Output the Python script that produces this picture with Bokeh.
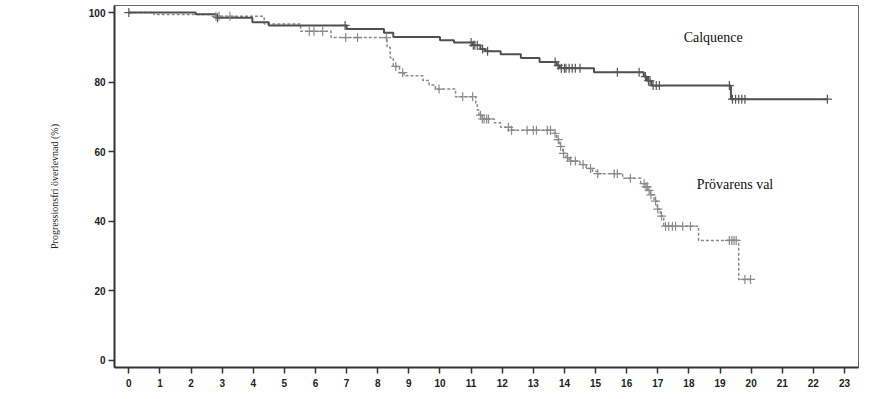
import numpy as np
from bokeh.plotting import figure
from bokeh.models import Range1d, FixedTicker
from bokeh.core.properties import value
from bokeh.embed import file_html
from bokeh.resources import INLINE

# Calquence: event times (months) and survival (%) after each event
calq_t = [0, 2.15, 2.8, 3.97, 4.5, 7.0, 8.2, 8.5, 10.0, 10.45, 11.05, 11.3, 11.45,
          11.95, 12.6, 13.2, 13.75, 13.85, 14.95, 16.55, 16.65, 16.8, 19.35, 22.45]
calq_s = [100, 99.5, 98.5, 97.2, 96.3, 95.3, 94.2, 93.0, 92.0, 91.4, 90.6, 89.5, 88.9,
          88.0, 86.9, 85.8, 84.8, 84.0, 82.8, 81.6, 80.4, 79.0, 75.1, 75.1]
calq_cens = [0.0, 2.85, 6.95, 11.0, 11.07, 11.12, 11.2, 11.37, 11.53, 13.7, 13.8, 13.9,
             14.0, 14.05, 14.15, 14.25, 14.35, 14.5, 15.7, 16.4, 16.6, 16.7, 16.75,
             16.85, 16.95, 17.05, 19.3, 19.4, 19.5, 19.6, 19.7, 19.8, 22.45]

# Prövarens val
prov_t = [0, 0.8, 2.8, 4.35, 5.52, 6.5, 8.3, 8.4, 8.5, 8.7, 8.85, 9.45, 9.65, 9.85,
          10.5, 11.15, 11.2, 11.25, 11.35, 11.75, 11.95, 12.3, 13.65, 13.75, 13.85, 13.95,
          14.05, 14.15, 14.5, 14.7, 14.9, 15.05, 15.87, 16.45, 16.58, 16.68, 16.76, 16.88,
          16.98, 17.08, 17.19, 18.31, 19.6, 19.98]
prov_s = [100, 99.4, 98.9, 96.7, 94.6, 92.8, 90.0, 87.0, 84.5, 82.7, 81.8, 80.5,
          79.2, 78.0, 75.8, 73.5, 72.0, 70.5, 69.4, 68.3, 67.0, 66.2, 65.3, 63.5, 61.5,
          59.5, 58.3, 57.3, 56.3, 55.2, 54.4, 53.7, 52.4, 50.8, 49.9, 48.9, 47.6, 45.8,
          43.5, 41.5, 38.6, 34.5, 23.3, 23.3]
prov_cens = [2.8, 2.9, 3.25, 5.8, 5.95, 6.23, 6.97, 7.35, 8.28, 8.58, 8.8, 9.97, 10.73,
             11.05, 11.3, 11.36, 11.42, 11.5, 11.56, 12.2, 12.3, 12.8, 13.0, 13.1, 13.45,
             13.55, 13.7, 13.8, 13.88, 13.97, 14.1, 14.2, 14.35, 14.6, 14.84, 15.07,
             15.6, 15.7, 16.12, 16.56, 16.62, 16.66, 16.72, 16.78, 16.93, 17.0, 17.12,
             17.25, 17.35, 17.47, 17.57, 17.8, 18.05, 19.3, 19.38, 19.45, 19.52,
             19.8, 19.98]

x_ticks = list(range(0, 24))
y_ticks = [0, 20, 40, 60, 80, 100]


def step_value(times, surv, t):
    i = np.searchsorted(np.array(times), t, side="right") - 1
    return surv[max(i, 0)]


p = figure(width=869, height=389, output_backend="svg", toolbar_location=None,
           x_range=Range1d(-0.46, 23.45), y_range=Range1d(-2.02, 102.02),
           min_border_left=114, min_border_right=11, min_border_top=5, min_border_bottom=0)
p.grid.visible = False
p.outline_line_color = "#666666"
p.outline_line_width = 1

# Curves
p.step(prov_t, prov_s, mode="after", line_color="#8a8a8a", line_width=1.5,
       line_dash="3 2")
p.step(calq_t, calq_s, mode="after", line_color="#505050", line_width=2)

p.scatter(prov_cens, [step_value(prov_t, prov_s, t) for t in prov_cens],
          marker="cross", size=9, line_color="#8a8a8a", line_width=1.2)
p.scatter(calq_cens, [step_value(calq_t, calq_s, t) for t in calq_cens],
          marker="cross", size=9, line_color="#555555", line_width=1.2)

# Labels
p.text([18.78], [92.8], text=["Calquence"], text_font=value("Liberation Serif"),
       text_font_size="14px", text_align="center", text_baseline="middle",
       text_color="#111111")
p.text([19.48], [50.6], text=["Prövarens val"], text_font=value("Liberation Serif"),
       text_font_size="14px", text_align="center", text_baseline="middle",
       text_color="#111111")

# Axes
for ax in (p.xaxis, p.yaxis):
    ax.axis_line_color = "#333333"
    ax.axis_line_width = 2
    ax.major_tick_line_color = "#333333"
    ax.major_tick_line_width = 1.5
    ax.major_tick_out = 6
    ax.major_tick_in = 0
    ax.minor_tick_line_color = None
    ax.major_label_text_font = "Liberation Sans"
    ax.major_label_text_font_style = "bold"
    ax.major_label_text_font_size = "10px"
    ax.major_label_text_color = "#222222"

p.xaxis.ticker = FixedTicker(ticks=x_ticks)
p.xaxis.major_label_standoff = 5
p.yaxis.ticker = FixedTicker(ticks=y_ticks)
p.yaxis.major_label_standoff = 3
p.yaxis.axis_label = "Progressionsfri överlevnad (%)"
p.yaxis.axis_label_text_font = "Liberation Serif"
p.yaxis.axis_label_text_font_style = "normal"
p.yaxis.axis_label_text_font_size = "10px"
p.yaxis.axis_label_text_color = "#222222"
p.yaxis.axis_label_standoff = 26

open("out.html", "w").write(file_html(p, INLINE))
